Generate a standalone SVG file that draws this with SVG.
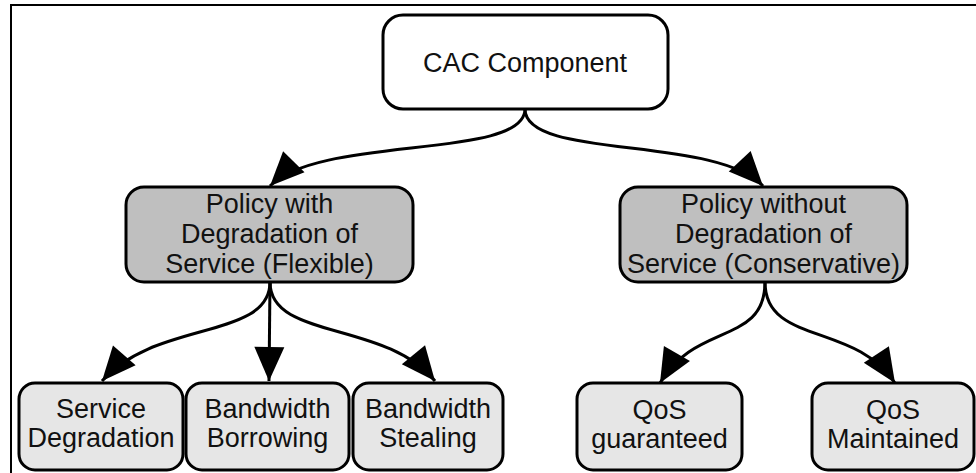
<svg xmlns="http://www.w3.org/2000/svg" width="976" height="473" viewBox="0 0 976 473">
  <style>
    .box { stroke: #000; stroke-width: 3; }
    .root { fill: #ffffff; }
    .policy { fill: #bfbfbf; }
    .leaf { fill: #e6e6e6; }
    .lbl { font-family: "Liberation Sans", Arial, sans-serif; font-size: 27px; fill: #111; text-anchor: middle; }
    .edge { fill: none; stroke: #000; stroke-width: 3; marker-end: url(#arrow); }
  </style>
  <defs>
    <marker id="arrow" markerUnits="userSpaceOnUse" markerWidth="36" markerHeight="30" refX="34" refY="15" orient="auto" overflow="visible">
      <path d="M0,0 L34,15 L0,30 Z" fill="#000"/>
    </marker>
  </defs>

  <rect width="976" height="473" fill="#fff"/>
  <!-- outer frame (top and left edges) -->
  <path d="M11,473 V5 H976" fill="none" stroke="#000" stroke-width="2"/>

  <g id="connectors">
    <path class="edge" d="M525,109 C525,160 320,135 270,186"/>
    <path class="edge" d="M525,109 C525,160 715,135 763,186"/>
    <path class="edge" d="M270,282 C270,340 155,320 102,381"/>
    <path class="edge" d="M270,282 L269,381"/>
    <path class="edge" d="M270,282 C270,340 385,320 435,381"/>
    <path class="edge" d="M765,282 C765,345 695,322 660,383"/>
    <path class="edge" d="M765,282 C765,345 855,322 895,383"/>
  </g>

  <g id="cac">
    <rect class="box root" x="383" y="15" width="285" height="94" rx="20"/>
    <text class="lbl" x="525" y="72" font-size="26.5">CAC Component</text>
  </g>

  <g id="policy-flexible">
    <rect class="box policy" x="126" y="187" width="287" height="95" rx="18"/>
    <text class="lbl" x="269.5" y="213">Policy with</text>
    <text class="lbl" x="269.5" y="243">Degradation of</text>
    <text class="lbl" x="269.5" y="273">Service (Flexible)</text>
  </g>

  <g id="policy-conservative">
    <rect class="box policy" x="620" y="187" width="287" height="95" rx="18"/>
    <text class="lbl" x="763.5" y="213">Policy without</text>
    <text class="lbl" x="763.5" y="243">Degradation of</text>
    <text class="lbl" x="763.5" y="273">Service (Conservative)</text>
  </g>

  <g id="service-degradation">
    <rect class="box leaf" x="19" y="383" width="164" height="87" rx="16"/>
    <text class="lbl" x="101" y="418">Service</text>
    <text class="lbl" x="101" y="447">Degradation</text>
  </g>

  <g id="bandwidth-borrowing">
    <rect class="box leaf" x="186" y="383" width="163" height="87" rx="16"/>
    <text class="lbl" x="267.5" y="418">Bandwidth</text>
    <text class="lbl" x="267.5" y="447">Borrowing</text>
  </g>

  <g id="bandwidth-stealing">
    <rect class="box leaf" x="353" y="383" width="150" height="87" rx="16"/>
    <text class="lbl" x="428" y="418">Bandwidth</text>
    <text class="lbl" x="428" y="447">Stealing</text>
  </g>

  <g id="qos-guaranteed">
    <rect class="box leaf" x="577" y="383" width="165" height="87" rx="16"/>
    <text class="lbl" x="659.5" y="419">QoS</text>
    <text class="lbl" x="659.5" y="448">guaranteed</text>
  </g>

  <g id="qos-maintained">
    <rect class="box leaf" x="812" y="383" width="162" height="87" rx="16"/>
    <text class="lbl" x="893" y="419">QoS</text>
    <text class="lbl" x="893" y="448">Maintained</text>
  </g>
</svg>
